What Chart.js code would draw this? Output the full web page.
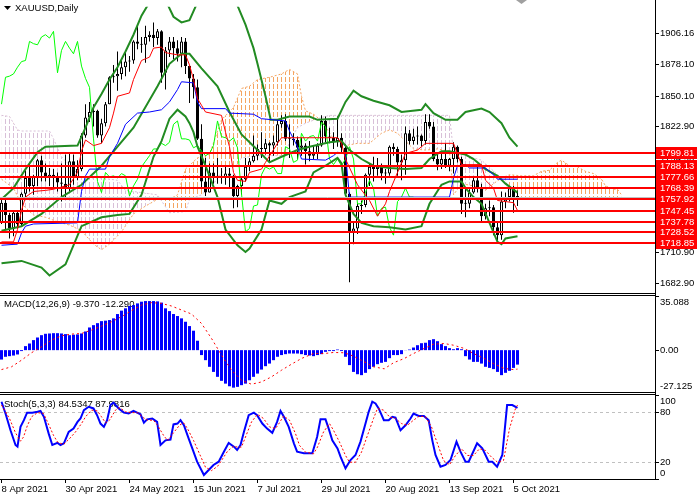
<!DOCTYPE html>
<html>
<head>
<meta charset="utf-8">
<script src="https://cdn.jsdelivr.net/npm/chart.js@4.4.1/dist/chart.umd.min.js"></script>
<style>
html, body { margin: 0; padding: 0; background: #fff; }
#wrap { position: relative; width: 700px; height: 500px; overflow: hidden; background: #fff; }
#wrap canvas { position: absolute; left: 0; }
.hl { position: absolute; left: 0; width: 656px; height: 1px; background: #000; }
.vl { position: absolute; left: 655px; top: 0; width: 1px; height: 480px; background: #000; }
</style>
</head>
<body>
<div id="wrap">
  <canvas id="main" width="700" height="293" style="top:0"></canvas>
  <canvas id="macd" width="700" height="96" style="top:296px"></canvas>
  <canvas id="stoch" width="700" height="105" style="top:395px"></canvas>
  <div class="hl" style="top:293px"></div>
  <div class="hl" style="top:295px"></div>
  <div class="hl" style="top:392px"></div>
  <div class="hl" style="top:394px"></div>
  <div class="vl"></div>
</div>
<script>
// daily bars, 8 Apr 2021 .. 6 Oct 2021
const opens = [1737,1755,1744,1732,1746,1736,1763,1777,1770,1778,
  1793,1782,1777,1780,1777,1773,1772,1768,1792,1778,
  1785,1815,1831,1836,1837,1815,1826,1843,1867,1868,
  1870,1876,1881,1882,1899,1897,1896,1903,1905,1902,
  1908,1871,1891,1899,1893,1888,1899,1877,1866,1858,
  1812,1774,1764,1782,1778,1779,1777,1781,1779,1761,
  1770,1776,1787,1792,1797,1803,1803,1808,1806,1809,
  1825,1828,1812,1812,1811,1804,1806,1801,1797,1799,
  1806,1828,1814,1813,1810,1813,1804,1763,1729,1732,
  1752,1753,1780,1787,1785,1787,1781,1781,1805,1803,
  1791,1793,1817,1810,1814,1815,1810,1827,1823,1794,
  1789,1794,1788,1794,1805,1794,1754,1754,1764,1775,
  1768,1743,1750,1751,1733,1726,1756,1760,1768,1760];
const highs = [1759,1758,1746,1748,1747,1764,1784,1790,1780,1794,
  1797,1790,1786,1785,1782,1790,1798,1799,1798,1793,
  1817,1843,1845,1843,1838,1830,1845,1868,1878,1890,
  1882,1890,1886,1900,1913,1903,1913,1908,1916,1910,
  1909,1894,1903,1903,1900,1903,1902,1877,1870,1865,
  1825,1795,1790,1790,1795,1786,1788,1786,1780,1771,
  1778,1795,1795,1815,1807,1818,1812,1809,1815,1829,
  1833,1834,1825,1817,1814,1813,1808,1810,1806,1808,
  1833,1832,1822,1818,1832,1817,1807,1764,1738,1755,
  1757,1781,1790,1796,1795,1790,1785,1806,1808,1805,
  1798,1823,1820,1821,1823,1816,1834,1834,1827,1800,
  1801,1808,1795,1809,1806,1796,1768,1767,1778,1788,
  1772,1754,1757,1753,1737,1765,1764,1769,1770,1766];
const lows = [1736,1731,1723,1725,1732,1734,1760,1765,1762,1770,
  1774,1774,1770,1768,1765,1756,1760,1765,1771,1775,
  1783,1813,1827,1823,1813,1808,1823,1843,1862,1855,
  1865,1868,1872,1879,1892,1889,1880,1899,1894,1896,
  1862,1856,1885,1883,1881,1876,1870,1844,1848,1811,
  1769,1761,1764,1772,1772,1772,1771,1768,1750,1751,
  1762,1774,1783,1791,1793,1795,1798,1791,1797,1806,
  1822,1810,1795,1806,1794,1797,1789,1792,1794,1794,
  1805,1809,1808,1803,1805,1800,1762,1684,1718,1727,
  1745,1751,1770,1774,1779,1775,1772,1779,1797,1779,
  1775,1780,1807,1807,1807,1805,1807,1821,1792,1784,
  1785,1786,1783,1781,1791,1745,1742,1750,1763,1764,
  1738,1740,1743,1726,1721,1722,1750,1756,1746,1752];
const closes = [1755,1744,1732,1746,1736,1763,1777,1770,1778,1793,
  1782,1777,1780,1777,1773,1772,1768,1792,1778,1785,
  1815,1831,1836,1837,1815,1826,1843,1867,1868,1870,
  1876,1881,1882,1899,1897,1896,1903,1905,1902,1908,
  1871,1891,1899,1893,1888,1899,1877,1866,1858,1812,
  1774,1764,1782,1778,1779,1777,1781,1779,1761,1770,
  1776,1787,1792,1797,1803,1803,1808,1806,1809,1825,
  1828,1812,1812,1811,1804,1806,1801,1797,1799,1806,
  1828,1814,1813,1810,1813,1804,1763,1729,1732,1752,
  1753,1780,1787,1785,1787,1781,1781,1805,1803,1791,
  1793,1817,1810,1814,1815,1810,1827,1823,1794,1789,
  1794,1788,1794,1805,1794,1754,1754,1764,1775,1768,
  1743,1750,1751,1733,1726,1756,1760,1768,1760,1760];

// indicator lines: [bar index, price]
const tenkan = [[0,1720],[3,1720],[4,1731],[5,1748],[6,1760],[8,1765],[11,1766],[13,1767],[17,1771],[19,1782],
  [20,1801],[21,1811],[23,1806],[25,1808],[27,1822],[28,1835],[29,1850],[32,1853],[33,1865],[35,1882],
  [37,1885],[38,1893],[40,1894],[41,1889],[44,1887],[46,1887],[47,1878],[48,1865],[49,1848],[50,1842],
  [51,1836],[55,1833],[56,1818],[57,1805],[58,1782],[59,1775],[61,1774],[62,1782],[65,1785],[66,1791],
  [69,1808],[70,1813],[84,1813],[85,1808],[86,1794],[89,1771],[92,1757],[94,1743],[96,1754],[97,1765],
  [99,1782],[101,1799],[104,1802],[106,1808],[113,1808],[115,1789],[120,1789],[121,1775],[123,1768],
  [124,1757],[128,1755],[129,1748]];
const kijun = [[0,1717],[4,1718],[5,1728],[6,1734],[8,1736],[19,1737],[20,1765],[21,1779],[22,1785],[26,1785],
  [27,1796],[29,1808],[31,1825],[34,1835],[37,1836],[40,1838],[42,1845],[44,1856],[45,1863],[48,1862],
  [49,1845],[50,1839],[56,1839],[57,1835],[63,1834],[65,1830],[71,1828],[72,1819],[74,1805],[75,1794],
  [81,1793],[83,1797],[84,1800],[86,1799],[87,1760],[112,1760],[113,1777],[114,1788],[116,1789],[117,1786],
  [121,1786],[123,1780],[124,1776],[129,1776]];
const senkouA = [[0,1776],[3,1768],[5,1754],[8,1744],[11,1742],[14,1738],[17,1735],[20,1730],[23,1718],[25,1713],
  [27,1718],[30,1729],[33,1745],[36,1752],[39,1758],[42,1758],[44,1762],[46,1785],[49,1795],[52,1798],
  [55,1829],[58,1840],[60,1857],[62,1859],[64,1865],[67,1867],[70,1870],[72,1874],[74,1870],[75,1850],
  [76,1837],[78,1834],[80,1828],[83,1812],[86,1806],[89,1808],[92,1808],[95,1817],[97,1820],[99,1817],
  [101,1810],[103,1803],[106,1802],[109,1803],[112,1801],[113,1762],[115,1772],[118,1770],[121,1766],
  [123,1772],[125,1777],[127,1780],[130,1779],[133,1779],[135,1783],[137,1784],[139,1791],[140,1793],
  [142,1788],[144,1787],[146,1783],[148,1781],[150,1776],[151,1770],[153,1767],[154,1767],[155,1762]];
const senkouB = [[0,1833],[2,1832],[4,1820],[5,1819],[12,1819],[13,1812],[15,1796],[18,1785],[20,1777],[25,1777],
  [29,1775],[31,1766],[39,1762],[42,1746],[46,1747],[47,1758],[50,1762],[53,1772],[55,1782],[59,1789],
  [60,1795],[64,1797],[71,1797],[72,1810],[74,1822],[76,1826],[79,1830],[82,1833],[112,1833],[113,1800],
  [115,1800],[116,1797],[120,1793],[124,1780],[126,1775],[127,1759],[155,1759]];
const bbUpper = [[0,1758],[3,1768],[6,1785],[9,1800],[11,1805],[19,1806],[21,1822],[23,1840],[25,1852],[27,1865],
  [29,1876],[31,1890],[33,1905],[35,1922],[37,1934],[41,1936],[43,1921],[45,1916],[47,1918],[49,1934],
  [53,1950],[58,1945],[59,1931],[61,1914],[63,1893],[64,1879],[66,1850],[67.3,1829],[69,1829],[72,1832],
  [77,1832],[79,1829],[84,1830],[86,1845],[88,1855],[90,1850],[93,1846],[97,1842],[100,1836],[105,1838],
  [106,1843],[108,1835],[111,1829],[114,1829],[116,1836],[120,1839],[122,1836],[125,1826],[127,1813],[129,1805]];
const bbMiddle = [[0,1730],[5,1734],[10,1745],[15,1760],[20,1771],[25,1788],[29,1805],[33,1822],[39,1859],[42,1879],
  [45,1888],[47,1888],[50,1875],[54,1859],[57,1836],[60,1816],[64,1802],[67,1791],[70,1796],[74,1802],
  [77,1805],[82,1809],[85,1810],[87,1802],[90,1794],[93,1788],[97,1786],[101,1785],[105,1786],[107,1794],
  [110,1801],[112,1801],[116,1798],[118,1794],[121,1785],[124,1779],[126,1772],[129,1764]];
const bbLower = [[0,1701],[5,1703],[10,1697],[12,1690],[16,1700],[20,1734],[25,1742],[29,1744],[32,1745],[35,1762],
  [38,1796],[40,1810],[42,1830],[44,1838],[46,1832],[47,1826],[48,1818],[49,1805],[51,1788],[54,1760],
  [56,1731],[59,1717],[61,1711],[62,1714],[65,1731],[67,1757],[70,1754],[72,1760],[76,1765],[78,1782],
  [81,1788],[84,1795],[85,1790],[86,1762],[88,1745],[90,1737],[93,1734],[97,1733],[101,1731],[105,1734],
  [107,1754],[110,1771],[112,1774],[115,1774],[116,1768],[118,1760],[120,1754],[122,1737],[124,1720],
  [125,1718],[126,1723],[129,1725]];
const chikouShift = 26;

const levelPrices = [1799.81, 1788.13, 1777.66, 1768.39, 1757.92, 1747.45, 1737.78, 1728.52, 1718.85];
const priceTicks = [1906.16, 1878.10, 1850.10, 1822.90, 1794.90, 1766.90, 1738.90, 1710.90, 1682.90];

// MACD(12,26,9): histogram per bar, signal read as [bar index, value]
const macdHist = [-6.1,-4.3,-3.9,-3.5,-2.8,-0.6,2.6,4.3,6.5,8.2,
  9.7,10.6,10.8,11.0,11.0,10.8,10.4,9.7,10.0,10.2,
  10.8,12.1,14.7,16.2,17.5,18.8,19.1,19.5,20.6,23.4,
  25.6,27.1,28.6,29.2,30.3,31.4,31.8,31.8,31.8,31.6,
  30.8,27.1,25.3,23.4,22.1,20.6,18.4,15.6,12.6,6.1,
  -3.2,-6.5,-10.8,-14.1,-17.3,-19.9,-21.7,-23.4,-24.3,-23.8,
  -22.7,-21.7,-19.5,-17.3,-15.2,-12.6,-10.4,-8.7,-6.5,-4.3,
  -3.2,-2.6,-2.2,-2.2,-2.2,-2.6,-3.2,-3.5,-3.9,-3.2,
  -2.6,-1.1,-0.6,-0.6,0.4,-0.6,-4.3,-9.7,-14.1,-15.6,
  -16.2,-14.7,-12.3,-10.8,-9.1,-8.2,-7.6,-5.2,-3.2,-3.2,
  -2.6,0.1,0.4,1.7,3.2,4.5,4.8,6.5,7.1,5.8,
  3.9,2.6,1.3,0.6,1.3,0.6,-3.9,-6.1,-7.6,-7.6,
  -8.7,-10.8,-11.5,-12.3,-14.1,-16.2,-14.7,-13.4,-11.5,-9.37];
const macdSignal = [[0,-12.6],[2.5,-10.8],[5,-6.5],[7.5,-1.7],[10,2.2],[12.5,6.5],[15,9.3],[17.5,10.4],[20,10.8],
  [22.5,13],[25,15.6],[27.5,18.4],[30,21.7],[32.5,25.6],[35,29.2],[37.5,30.8],[40,30.3],[42.5,28.6],[45,26],
  [47.5,23.4],[50,17.3],[52.5,7.6],[55,-3.2],[57.5,-13],[60,-19.5],[62.5,-22.1],[65,-20.6],[67.5,-17.3],
  [70,-13],[72.5,-9.1],[75,-5.4],[78,-2.2],[80.7,-2.2],[83,-1.5],[85.7,-1.7],[88,-3.9],[90.7,-7.6],[93,-10.8],
  [95.7,-12.1],[98,-8.2],[100.7,-5.4],[103,-2.2],[105.7,1.1],[108,3.9],[110.7,4.3],[113,3.2],[115.7,1.1],
  [118,-2.2],[120.7,-5.4],[123,-8.7],[125.7,-11.9],[128,-12.6],[129,-12.29]];
const macdTicks = [35.088, 0, -27.125];
const macdTickLabels = ['35.088', '0.00', '-27.125'];

// Stochastic(5,3,3): [bar index, value]
const stochK = [[0,92],[1,78],[2.25,58],[3.5,40.5],[4,38.5],[4.75,62],[5.6,70],[6.4,79],[7.7,79],[9,80],[9.75,81],
  [10.6,74],[11.8,54],[12.7,40.5],[14,43],[14.75,40.5],[15.6,42.5],[16.8,56],[18,60],[19,68],[19.75,72],
  [20.6,82],[21.8,86],[23,84],[23.9,76],[24.75,66],[25.6,62],[26.4,70],[27.25,88],[28,91],[29.3,84],
  [30.6,79],[31.8,78],[33,81],[33.9,79],[34.75,77],[35.6,67],[36.4,71],[37.7,72],[38.9,68],[39.75,40.5],
  [41,46],[42.25,47],[43,65],[44,66],[44.75,70],[45.6,64],[46.8,48],[47.7,36.5],[48.9,20.6],[50.6,4.8],
  [51.8,10.7],[53,16.7],[54.3,20.6],[55.6,32.5],[56.8,43],[58.1,38.5],[58.9,34.5],[59.75,40.5],[60.6,56],
  [61.8,76],[63.1,79],[63.9,76],[65.2,66],[66.4,60],[67.7,55],[68.9,68],[69.75,81],[70.6,74],[71.8,62],
  [73.1,42.5],[73.9,32.5],[75.6,30.6],[77.7,30.6],[78.9,50],[79.75,71],[81,71],[81.8,60],[82.7,46],
  [84,36.5],[84.75,26.6],[86,12.7],[87.25,22.6],[88.5,28.6],[89.75,44.5],[91,66],[91.8,80],[92.7,92],
  [93.5,90],[94.3,84],[95.6,70],[96.8,70],[97.7,74],[98.5,73],[99.75,58],[101,64],[102.25,72],[103,78],
  [104.3,75],[105.6,75],[106.8,70],[107.7,46],[108.5,28.6],[109.75,14.7],[111,16.7],[112.25,22.6],
  [113.75,44.5],[114.75,32.5],[116,20.6],[116.8,20.6],[118.9,42.5],[120.2,36.5],[121.8,20.6],[122.7,20.6],
  [123.9,14.7],[125.2,28.6],[126.4,88],[127.7,88],[129,84.53]];
const stochD = [[0,88],[2,72],[3.5,55],[4.75,45],[5.5,50],[6.5,64],[7.5,74],[9,79],[10.5,78],[11.5,68],[13,52],
  [14,44],[15.5,41],[17,48],[18.5,56],[20,66],[21,74],[22.5,82],[24,81],[25,74],[26,67],[27,70],[28.5,82],
  [29.5,85],[31,80],[32.5,79],[34,79],[35.5,73],[36.5,70],[38,70],[39,64],[40.5,52],[41.5,46],[43,55],
  [44.5,64],[45.5,67],[46.5,60],[48,46],[49.5,30],[51,14],[52.5,10],[54,15],[55,22],[56.5,33],[58,39],
  [59,38],[60,38],[61,50],[62.5,68],[64,77],[65.5,72],[67,62],[68.5,60],[69.5,67],[70.5,75],[72,70],
  [73.5,54],[74.5,40],[76,32],[78,30],[79,38],[80.5,56],[82,66],[83,58],[84.5,44],[86,28],[87,20],
  [88.5,20],[90,32],[91.5,52],[93,72],[94,84],[95.5,82],[97,74],[98.5,72],[100,66],[101.5,64],[103,70],
  [104.5,75],[106,74],[107.5,62],[109,42],[110.5,22],[112,17],[113.5,28],[115,36],[116.5,28],[118,28],
  [119.5,36],[121,34],[122.5,26],[124,20],[125.5,22],[127,60],[128.5,84],[129,87.98]];
const stochLevels = [80, 20];
const stochTicks = [100, 80, 20, 0];
const stochTickLabels = ['100', '80', '20', '0'];

const dateTickIndex = [0, 16, 32, 48, 64, 80, 96, 112, 128];
const dateTickLabels = ['8 Apr 2021', '30 Apr 2021', '24 May 2021', '15 Jun 2021', '7 Jul 2021',
  '29 Jul 2021', '20 Aug 2021', '13 Sep 2021', '5 Oct 2021'];

// ---------------------------------------------------------------
const FONT = '9.5px "Liberation Sans", Arial, sans-serif';
const X_MIN = -0.375, X_MAX = 163.375;   // 4 px per bar over a 655 px plot

function hatch(color) {
  const c = document.createElement('canvas');
  c.width = 4; c.height = 7;
  const g = c.getContext('2d');
  g.fillStyle = color;
  g.fillRect(1, 0, 1, 5);
  return g.createPattern(c, 'repeat');
}

function line(pts, color, width, dash, order) {
  return {
    type: 'line',
    data: pts.map(([x, y]) => ({ x, y })),
    borderColor: color, borderWidth: width, borderDash: dash || [],
    pointRadius: 0, tension: 0, fill: false, order: order
  };
}

const baseOptions = () => ({
  responsive: false, animation: false, devicePixelRatio: 1, events: [],
  layout: { padding: 0 },
  plugins: { legend: { display: false }, tooltip: { enabled: false } }
});

const hiddenX = () => ({ type: 'linear', min: X_MIN, max: X_MAX, offset: false, display: false, grid: { offset: false } });

// title text drawn before the series so they pass over it
const panelTitle = {
  id: 'panelTitle',
  beforeDatasetsDraw(chart, args, opts) {
    if (!opts.text) return;
    const ctx = chart.ctx;
    ctx.save();
    ctx.font = FONT; ctx.fillStyle = '#000'; ctx.textBaseline = 'middle';
    ctx.fillText(opts.text, opts.x, opts.y);
    if (opts.arrow) {
      ctx.beginPath(); ctx.moveTo(4, 6); ctx.lineTo(11, 6); ctx.lineTo(7.5, 10); ctx.closePath(); ctx.fill();
    }
    ctx.restore();
  }
};

// right side labels for the sub windows
const sideLabels = {
  id: 'sideLabels',
  afterDraw(chart, args, opts) {
    if (!opts.values) return;
    const { ctx, chartArea, scales: { y } } = chart;
    ctx.save();
    ctx.font = FONT; ctx.fillStyle = '#000'; ctx.strokeStyle = '#000'; ctx.lineWidth = 1;
    opts.values.forEach((v, i) => {
      const py = Math.round(y.getPixelForValue(v));
      const base = i === 0 ? 'top' : (i === opts.values.length - 1 ? 'bottom' : 'middle');
      ctx.beginPath(); ctx.moveTo(chartArea.right, py + 0.5); ctx.lineTo(chartArea.right + 4, py + 0.5); ctx.stroke();
      ctx.textBaseline = base;
      ctx.fillText(opts.labels[i], chartArea.right + 5, base === 'top' ? py + 2 : (base === 'bottom' ? py - 1 : py));
    });
    ctx.restore();
  }
};

const priceOverlay = {
  id: 'priceOverlay',
  afterDatasetsDraw(chart) {
    const { ctx, chartArea, scales: { y } } = chart;
    ctx.save();
    const bid = Math.round(y.getPixelForValue(closes[closes.length - 1])) + 0.5;
    ctx.strokeStyle = '#c0c0c0'; ctx.lineWidth = 1;
    ctx.beginPath(); ctx.moveTo(chartArea.left, bid); ctx.lineTo(chartArea.right, bid); ctx.stroke();
    ctx.strokeStyle = '#ff0000'; ctx.lineWidth = 2;
    levelPrices.forEach(p => {
      const py = Math.round(y.getPixelForValue(p));
      ctx.beginPath(); ctx.moveTo(chartArea.left, py); ctx.lineTo(chartArea.right, py); ctx.stroke();
    });
    ctx.restore();
  },
  afterDraw(chart) {
    const { ctx, chartArea, scales: { y } } = chart;
    ctx.save();
    ctx.font = FONT; ctx.textBaseline = 'middle';
    levelPrices.forEach(p => {
      const py = Math.round(y.getPixelForValue(p));
      ctx.fillStyle = '#ff0000';
      ctx.fillRect(chartArea.right + 1, py - 6, 41, 12);
      ctx.fillStyle = '#ffffff';
      ctx.fillText(p.toFixed(2), chartArea.right + 5, py);
    });
    // chart shift marker
    ctx.fillStyle = '#a0a0a0';
    ctx.beginPath(); ctx.moveTo(516, 0); ctx.lineTo(527, 0); ctx.lineTo(521.5, 4); ctx.closePath(); ctx.fill();
    ctx.restore();
  }
};

const stochLevelLines = {
  id: 'stochLevelLines',
  beforeDatasetsDraw(chart) {
    const { ctx, chartArea, scales: { y } } = chart;
    ctx.save();
    ctx.strokeStyle = '#c0c0c0'; ctx.lineWidth = 1; ctx.setLineDash([3, 3]);
    stochLevels.forEach(v => {
      const py = Math.round(y.getPixelForValue(v)) + 0.5;
      ctx.beginPath(); ctx.moveTo(chartArea.left, py); ctx.lineTo(chartArea.right, py); ctx.stroke();
    });
    ctx.restore();
  }
};

Chart.register(panelTitle, sideLabels);

const rightAxis = (min, max) => ({
  position: 'right', min: min, max: max,
  afterFit: s => { s.width = 45; },
  ticks: { display: false },
  grid: { display: false },
  border: { display: true, color: '#000' }
});

// ---------------- price window ----------------
const mainOpts = baseOptions();
mainOpts.plugins.panelTitle = { text: 'XAUUSD,Daily', x: 15, y: 8, arrow: true };
mainOpts.scales = {
  x: hiddenX(),
  y: {
    position: 'right', min: 1680.34, max: 1930.02,
    afterFit: s => { s.width = 45; },
    afterBuildTicks: s => { s.ticks = priceTicks.map(v => ({ value: v })); },
    ticks: { callback: v => Number(v).toFixed(2), font: { family: 'Liberation Sans', size: 9.5 }, color: '#000', padding: 1, autoSkip: false },
    grid: { drawOnChartArea: false, drawTicks: true, tickLength: 4, color: '#000' },
    border: { display: true, color: '#000' }
  }
};

const cloudA = line(senkouA, '#F4A460', 1, [2, 2], 30);
cloudA.fill = { target: 1, above: hatch('#F4A460'), below: hatch('#D8BFD8') };

new Chart(document.getElementById('main'), {
  type: 'line',
  data: {
    datasets: [
      cloudA,
      line(senkouB, '#D8BFD8', 1, [2, 2], 29),
      {
        type: 'bar', order: 20,
        data: highs.map((h, i) => ({ x: i, y: [lows[i], h] })),
        backgroundColor: '#000', borderWidth: 0, barThickness: 1, grouped: false, inflateAmount: 0
      },
      {
        type: 'bar', order: 19,
        data: opens.map((o, i) => ({ x: i, y: [o, closes[i]] })),
        backgroundColor: closes.map((c, i) => c > opens[i] ? '#ffffff' : '#000000'),
        borderColor: '#000', borderWidth: 1, borderSkipped: false,
        barThickness: 3, grouped: false, inflateAmount: 0, minBarLength: 1
      },
      line(closes.slice(chikouShift).map((c, i) => [i, c]), '#00ff00', 1, null, 15),
      line(bbUpper, '#228B22', 2, null, 12),
      line(bbMiddle, '#228B22', 2, null, 12),
      line(bbLower, '#228B22', 2, null, 12),
      line(kijun, '#0000ff', 1, null, 10),
      line(tenkan, '#ff0000', 1, null, 9)
    ]
  },
  options: mainOpts,
  plugins: [priceOverlay]
});

// ---------------- MACD window ----------------
const macdOpts = baseOptions();
macdOpts.plugins.panelTitle = { text: 'MACD(12,26,9) -9.370 -12.290', x: 4, y: 8 };
macdOpts.plugins.sideLabels = { values: macdTicks, labels: macdTickLabels };
macdOpts.scales = {
  x: hiddenX(),
  y: rightAxis(-27.125, 35.088)
};
new Chart(document.getElementById('macd'), {
  type: 'line',
  data: {
    datasets: [
      line(macdSignal, '#ff0000', 1, [2, 3], 1),
      {
        type: 'bar', order: 2,
        data: macdHist.map((v, i) => ({ x: i, y: v })),
        backgroundColor: '#0000ff', borderWidth: 0, barThickness: 3, grouped: false, inflateAmount: 0
      }
    ]
  },
  options: macdOpts
});

// ---------------- Stochastic window ----------------
const stochOpts = baseOptions();
stochOpts.plugins.panelTitle = { text: 'Stoch(5,3,3) 84.5347 87.9816', x: 4, y: 9 };
stochOpts.plugins.sideLabels = { values: stochTicks, labels: stochTickLabels };
stochOpts.scales = {
  x: {
    type: 'linear', min: X_MIN, max: X_MAX, position: 'bottom', offset: false,
    afterFit: s => { s.height = 21; },
    afterBuildTicks: s => { s.ticks = dateTickIndex.map(v => ({ value: v })); },
    ticks: {
      callback: v => dateTickLabels[dateTickIndex.indexOf(v)],
      align: 'start', maxRotation: 0, autoSkip: false, padding: 1,
      font: { family: 'Liberation Sans', size: 9.5 }, color: '#000'
    },
    grid: { drawOnChartArea: false, drawTicks: true, tickLength: 4, color: '#000' },
    border: { display: true, color: '#000' }
  },
  y: rightAxis(0, 100)
};
new Chart(document.getElementById('stoch'), {
  type: 'line',
  data: {
    datasets: [
      line(stochD, '#ff0000', 1, [2, 2], 1),
      line(stochK, '#0000ff', 2, null, 2)
    ]
  },
  options: stochOpts,
  plugins: [stochLevelLines]
});
</script>
</body>
</html>
